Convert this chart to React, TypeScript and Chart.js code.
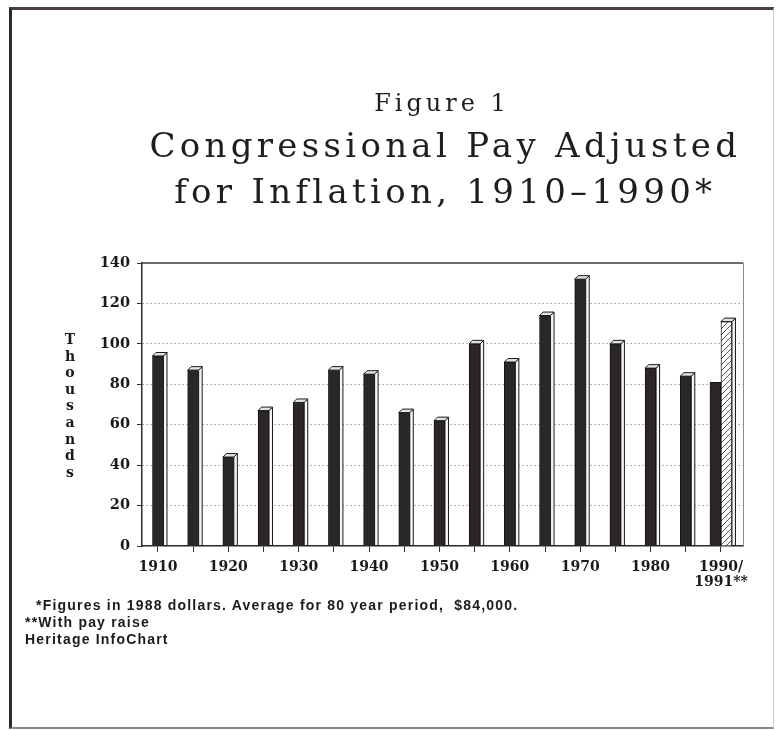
import React, { useEffect, useRef } from 'react';
import { Chart, registerables } from 'chart.js';

Chart.register(...registerables);

// ---- data ----
const years = [1910, 1915, 1920, 1925, 1930, 1935, 1940, 1945, 1950, 1955, 1960, 1965, 1970, 1975, 1980, 1985, 1990];
const payThousands = [94, 87, 44, 67, 71, 87, 85, 66, 62, 100, 91, 114, 132, 100, 88, 84, 81];
const raiseYear = 1990;
const raiseThousands = 111;
const lastTickLabel = ['1990/', '1991**'];
const yAxisLetters = ['T', 'h', 'o', 'u', 's', 'a', 'n', 'd', 's'];
const figureLabel = 'Figure 1';
const titleLines = ['Congressional Pay Adjusted', 'for Inflation, 1910\u20131990*'];
const footnotes = [
  ' *Figures in 1988 dollars. Average for 80 year period,  $84,000.',
  '**With pay raise',
  'Heritage InfoChart',
];

const DARK = '#2c2727';

function makeHatch(): CanvasPattern | string {
  const c = document.createElement('canvas');
  c.width = 6;
  c.height = 6;
  const g = c.getContext('2d');
  if (!g) return '#ccc';
  g.fillStyle = '#ffffff';
  g.fillRect(0, 0, 6, 6);
  g.strokeStyle = '#555';
  g.lineWidth = 1;
  g.beginPath();
  g.moveTo(0, 6);
  g.lineTo(6, 0);
  g.moveTo(-1, 1);
  g.lineTo(1, -1);
  g.moveTo(5, 7);
  g.lineTo(7, 5);
  g.stroke();
  return g.createPattern(c, 'repeat') || '#ccc';
}

const plotFrame = {
  id: 'plotFrame',
  beforeDatasetsDraw(chart: any) {
    const { ctx, chartArea: a } = chart;
    ctx.save();
    ctx.strokeStyle = '#3a3a3a';
    ctx.lineWidth = 1.5;
    ctx.beginPath();
    ctx.moveTo(a.left, a.top);
    ctx.lineTo(a.right, a.top);
    ctx.stroke();
    ctx.strokeStyle = '#8a8a8a';
    ctx.lineWidth = 1;
    ctx.beginPath();
    ctx.moveTo(a.right + 0.5, a.top);
    ctx.lineTo(a.right + 0.5, a.bottom);
    ctx.stroke();
    ctx.restore();
  },
};

const bar3d = {
  id: 'bar3d',
  afterDatasetsDraw(chart: any) {
    const ctx = chart.ctx;
    const d = 3.5;
    chart.data.datasets.forEach((ds: any, di: number) => {
      const meta = chart.getDatasetMeta(di);
      meta.data.forEach((el: any, i: number) => {
        const pt = ds.data[i];
        if (!pt || pt.y == null) return;
        if (di === 0 && years[i] === raiseYear) return;
        const { x, y, base, width } = el.getProps(['x', 'y', 'base', 'width'], true);
        const l = x - width / 2;
        const r = x + width / 2;
        ctx.save();
        ctx.lineWidth = 1;
        ctx.strokeStyle = '#1a1a1a';
        ctx.lineJoin = 'round';
        ctx.beginPath();
        ctx.moveTo(r, y);
        ctx.lineTo(r + d, y - d);
        ctx.lineTo(r + d, base);
        ctx.lineTo(r, base);
        ctx.closePath();
        ctx.fillStyle = '#f6f6f6';
        ctx.fill();
        ctx.stroke();
        ctx.beginPath();
        ctx.moveTo(l, y);
        ctx.lineTo(l + d, y - d);
        ctx.lineTo(r + d, y - d);
        ctx.lineTo(r, y);
        ctx.closePath();
        ctx.fillStyle = '#e2e2e2';
        ctx.fill();
        ctx.stroke();
        ctx.restore();
      });
    });
  },
};

export default function App() {
  const canvasRef = useRef<HTMLCanvasElement | null>(null);

  useEffect(() => {
    document.body.style.margin = '0';
    const canvas = canvasRef.current;
    if (!canvas) return;
    const tickFont = { family: "'DejaVu Serif', serif", weight: 'bold' as const, size: 14 };
    const xTickFont = { family: "'DejaVu Serif', serif", weight: 'bold' as const, size: 14, lineHeight: 1.05 };
    const chart = new Chart(canvas, {
      type: 'bar',
      data: {
        datasets: [
          {
            label: 'Congressional pay',
            data: years.map((yr, i) => ({ x: yr, y: payThousands[i] })),
            backgroundColor: DARK,
            borderColor: '#151212',
            borderWidth: 1,
            barThickness: 11,
            skipNull: true,
          } as any,
          {
            label: 'With pay raise',
            data: years.map((yr) => ({ x: yr, y: yr === raiseYear ? raiseThousands : null })),
            backgroundColor: makeHatch(),
            borderColor: '#222',
            borderWidth: 1,
            barThickness: 11,
            skipNull: true,
          } as any,
        ],
      },
      options: {
        responsive: false,
        animation: false,
        devicePixelRatio: 1,
        layout: { padding: { left: 0, top: 263, right: 34, bottom: 124 } },
        plugins: {
          legend: { display: false },
          tooltip: { enabled: false },
          title: { display: false },
        },
        scales: {
          x: {
            type: 'linear',
            offset: false,
            min: 1907.73,
            max: 1993.13,
            afterFit: (s: any) => {
              s.height = 60;
            },
            grid: {
              offset: false,
              drawOnChartArea: false,
              drawTicks: true,
              tickLength: 6,
              tickColor: '#333',
            },
            border: { display: true, color: '#2a2a2a', width: 1.5 },
            ticks: {
              stepSize: 5,
              includeBounds: false,
              autoSkip: false,
              maxRotation: 0,
              minRotation: 0,
              padding: 8,
              color: '#1a1a1a',
              font: xTickFont,
              callback: (value: any) => {
                const v = Number(value);
                if (v % 10 !== 0) return '';
                if (v === raiseYear) return lastTickLabel;
                return String(v);
              },
            },
          } as any,
          y: {
            min: 0,
            max: 140,
            afterFit: (s: any) => {
              s.width = 142;
            },
            grid: {
              color: (c: any) => (c.tick && (c.tick.value === 0 || c.tick.value === 140) ? 'rgba(0,0,0,0)' : '#9c9c9c'),
              lineWidth: 1,
              drawTicks: true,
              tickLength: 5,
              tickColor: '#333',
            },
            border: { display: true, color: '#2a2a2a', width: 1.5, dash: [1.5, 2.5] },
            ticks: {
              stepSize: 20,
              padding: 7,
              color: '#1a1a1a',
              font: { ...tickFont, size: 14.5 },
            },
          } as any,
        },
      },
      plugins: [plotFrame, bar3d],
    });
    return () => chart.destroy();
  }, []);

  const titleBase: React.CSSProperties = {
    position: 'absolute',
    whiteSpace: 'nowrap',
    textAlign: 'center',
    fontFamily: "'DejaVu Serif', serif",
    color: '#1e1e1e',
    fontWeight: 'normal',
  };

  return (
    <div style={{ position: 'absolute', left: 0, top: 0, width: 777, height: 730, background: '#fff', overflow: 'hidden' }}>
      <canvas ref={canvasRef} width={777} height={730} style={{ position: 'absolute', left: 0, top: 0, width: 777, height: 730 }} />
      <div
        style={{
          position: 'absolute',
          left: 9,
          top: 7,
          width: 761,
          height: 717,
          borderTop: '3px solid #4a413c',
          borderLeft: '3px solid #2f2a28',
          borderRight: '1px solid #cfcfcf',
          borderBottom: '2px solid #8a8a8a',
          pointerEvents: 'none',
        }}
      />
      <div style={{ ...titleBase, left: 138, top: 91, width: 600, paddingLeft: 4, fontSize: 24, lineHeight: '25px', letterSpacing: '4px' }}>
        {figureLabel}
      </div>
      {titleLines.map((t, i) => (
        <div
          key={t}
          style={{ ...titleBase, left: 141, top: 128 + i * 46, width: 600, paddingLeft: 4.3, fontSize: 34, lineHeight: '35px', letterSpacing: '4.3px' }}
        >
          {t}
        </div>
      ))}
      <div
        style={{
          position: 'absolute',
          left: 60,
          top: 331,
          width: 20,
          textAlign: 'center',
          fontFamily: "'DejaVu Serif', serif",
          fontWeight: 'bold',
          fontSize: 14,
          lineHeight: '16.6px',
          color: '#1a1a1a',
        }}
      >
        {yAxisLetters.map((ch, i) => (
          <div key={i}>{ch}</div>
        ))}
      </div>
      {footnotes.map((t, i) => (
        <div
          key={i}
          style={{
            position: 'absolute',
            left: i === 0 ? 31 : 25,
            top: 598 + i * 17,
            whiteSpace: 'pre',
            fontFamily: "'Liberation Sans', Arial, sans-serif",
            fontWeight: 'bold',
            fontSize: 14,
            lineHeight: '14px',
            letterSpacing: '1.2px',
            color: '#1a1a1a',
          }}
        >
          {t}
        </div>
      ))}
    </div>
  );
}
